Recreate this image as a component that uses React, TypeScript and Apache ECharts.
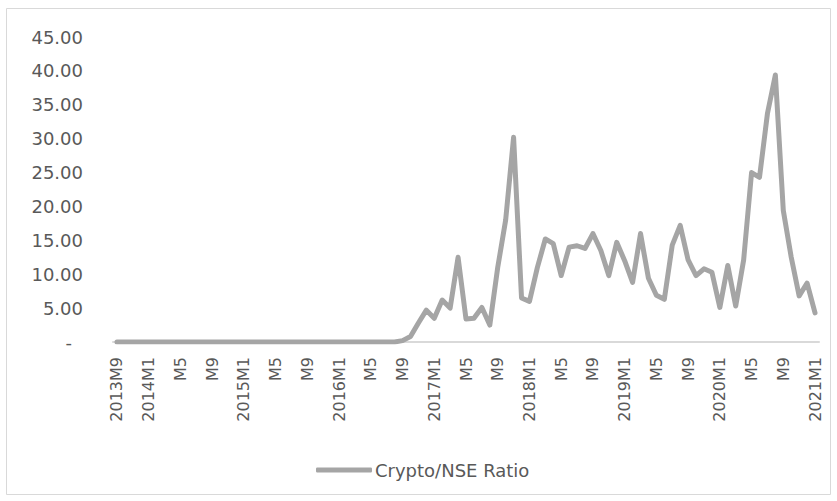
import React, { useEffect, useRef } from "react";
import * as echarts from "echarts";

const categories: string[] = [
  "2013M9", "M10", "M11", "M12",
  "2014M1", "M2", "M3", "M4", "M5", "M6", "M7", "M8", "M9", "M10", "M11", "M12",
  "2015M1", "M2", "M3", "M4", "M5", "M6", "M7", "M8", "M9", "M10", "M11", "M12",
  "2016M1", "M2", "M3", "M4", "M5", "M6", "M7", "M8", "M9", "M10", "M11", "M12",
  "2017M1", "M2", "M3", "M4", "M5", "M6", "M7", "M8", "M9", "M10", "M11", "M12",
  "2018M1", "M2", "M3", "M4", "M5", "M6", "M7", "M8", "M9", "M10", "M11", "M12",
  "2019M1", "M2", "M3", "M4", "M5", "M6", "M7", "M8", "M9", "M10", "M11", "M12",
  "2020M1", "M2", "M3", "M4", "M5", "M6", "M7", "M8", "M9", "M10", "M11", "M12",
  "2021M1",
];

const ratioValues: number[] = [
  0, 0, 0, 0,
  0, 0, 0, 0, 0, 0, 0, 0, 0, 0, 0, 0,
  0, 0, 0, 0, 0, 0, 0, 0, 0, 0, 0, 0,
  0, 0, 0, 0, 0, 0, 0, 0, 0.2, 0.8, 2.8, 4.7,
  3.5, 6.2, 5.0, 12.5, 3.4, 3.5, 5.1, 2.5, 11.0, 18.0, 30.2, 6.5,
  6.0, 11.0, 15.2, 14.5, 9.8, 14.0, 14.2, 13.8, 16.0, 13.5, 9.8, 14.7,
  12.0, 8.8, 16.0, 9.4, 6.9, 6.3, 14.3, 17.2, 12.1, 9.8, 10.8, 10.3,
  5.1, 11.3, 5.3, 12.1, 25.0, 24.3, 33.7, 39.4, 19.4, 12.5, 6.8, 8.7,
  4.3,
];

const seriesName = "Crypto/NSE Ratio";

export default function App() {
  const ref = useRef<HTMLDivElement>(null);
  useEffect(() => {
    if (!ref.current) return;
    const chart = echarts.init(ref.current, null, { renderer: "svg" });
    const font = "'DejaVu Sans', 'Open Sans', sans-serif";
    chart.setOption({
      animation: false,
      backgroundColor: "#ffffff",
      graphic: [
        {
          type: "rect",
          shape: { x: 6.5, y: 8.5, width: 824, height: 486 },
          style: { fill: "none", stroke: "#d9d9d9", lineWidth: 1 },
          silent: true,
        },
      ],
      grid: {
        left: 113,
        right: 18,
        top: 37,
        bottom: 159,
        containLabel: false,
        outerBoundsMode: "none",
      },
      legend: {
        left: 311,
        top: 456,
        icon: "roundRect",
        itemWidth: 56,
        itemHeight: 5,
        itemGap: 10,
        textStyle: { color: "#595959", fontSize: 18, fontFamily: font, padding: [0, 0, 0, -2] },
        data: [seriesName],
      },
      xAxis: {
        type: "category",
        data: categories,
        boundaryGap: true,
        axisLine: { show: true, lineStyle: { color: "#d9d9d9", width: 2 } },
        axisTick: { show: false },
        axisLabel: {
          interval: 3,
          rotate: 90,
          margin: 15,
          color: "#595959",
          fontSize: 16,
          fontFamily: font,
        },
        splitLine: { show: false },
      },
      yAxis: {
        type: "value",
        min: 0,
        max: 45,
        interval: 5,
        axisLine: { show: false },
        axisTick: { show: false },
        splitLine: { show: false },
        axisLabel: {
          margin: 30,
          color: "#595959",
          fontSize: 18,
          fontFamily: font,
          formatter: (v: number) => (v === 0 ? "{d|-}" : v.toFixed(2)),
          rich: {
            d: {
              color: "#595959",
              fontSize: 18,
              fontFamily: font,
              padding: [0, 11, 0, 0],
            },
          },
        },
      },
      series: [
        {
          name: seriesName,
          type: "line",
          data: ratioValues,
          symbol: "none",
          showSymbol: false,
          lineStyle: { color: "#a5a5a5", width: 5, join: "round", cap: "round" },
          itemStyle: { color: "#a5a5a5" },
        },
      ],
    });
    return () => chart.dispose();
  }, []);
  return (
    <div
      ref={ref}
      style={{ position: "fixed", left: 0, top: 0, width: 837, height: 501 }}
    />
  );
}
